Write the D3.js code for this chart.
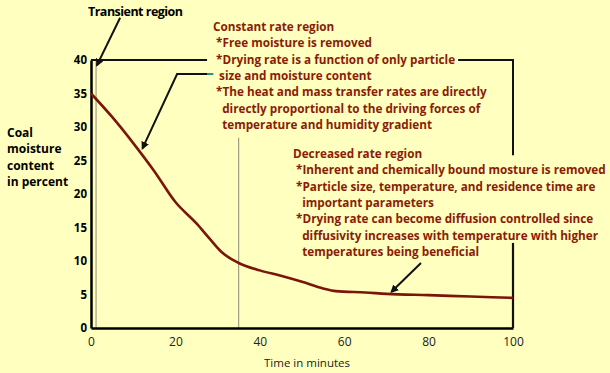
<!DOCTYPE html>
<html>
<head>
<meta charset="utf-8">
<script src="https://cdn.jsdelivr.net/npm/d3@7"></script>
<style>
  body { margin: 0; background: #ffffc0; }
  svg { display: block; font-family: "Open Sans", sans-serif; }
</style>
</head>
<body>
<div class="graph"></div>
<script>
// drying curve
const time     = [0, 5, 10, 15, 20, 25, 28, 31, 35, 40, 45, 50, 55, 58, 65, 70, 80, 90, 100];
const moisture = [35, 31.5, 27.6, 23.4, 18.8, 15.6, 13.4, 11.3, 9.7, 8.6, 7.8, 6.9, 5.9, 5.5, 5.3, 5.1, 4.9, 4.7, 4.5];

const xTicks = [0, 20, 40, 60, 80, 100];
const yTicks = [0, 5, 10, 15, 20, 25, 30, 35, 40];

const yTitle = ["Coal", "moisture", "content", "in percent"];
const xTitle = "Time in minutes";
const transientLabel = "Transient region";

const constantLines = [
  "Constant rate region",
  " *Free moisture is removed",
  " *Drying rate is a function of only particle",
  "  size and moisture content",
  " *The heat and mass transfer rates are directly",
  "   directly proportional to the driving forces of",
  "   temperature and humidity gradient"
];
const decreasedLines = [
  "Decreased rate region",
  " *Inherent and chemically bound mosture is removed",
  " *Particle size, temperature, and residence time are",
  "   important parameters",
  " *Drying rate can become diffusion controlled since",
  "   diffusivity increases with temperature with higher",
  "   temperatures being beneficial"
];

const width = 610, height = 373;
const textRed = "#8a1c06";

const x = d3.scaleLinear().domain([0, 100]).range([91, 513]);
const y = d3.scaleLinear().domain([0, 40]).range([328, 60]);

const svg = d3.select('.graph')
  .append('svg')
  .attr('width', width)
  .attr('height', height);

svg.append('rect')
  .attr('width', width)
  .attr('height', height)
  .attr('fill', '#ffffc0');

svg.append('defs').append('marker')
  .attr('id', 'arrow')
  .attr('viewBox', '0 0 10 10')
  .attr('refX', 8).attr('refY', 5)
  .attr('markerWidth', 4).attr('markerHeight', 4)
  .attr('orient', 'auto')
  .append('path')
  .attr('d', 'M0,0L10,5L0,10z')
  .attr('fill', '#111');

// thin region dividers
svg.append('line')
  .attr('x1', x(1.2)).attr('x2', x(1.2))
  .attr('y1', y(40)).attr('y2', y(0))
  .attr('stroke', '#8c8c7a').attr('stroke-width', 1);

svg.append('line')
  .attr('x1', x(35)).attr('x2', x(35))
  .attr('y1', y(28.4)).attr('y2', y(0))
  .attr('stroke', '#8c8c7a').attr('stroke-width', 1);

// axes
const xAxis = d3.axisBottom(x).tickValues(xTicks).tickSize(0).tickPadding(9);
const yAxis = d3.axisLeft(y).tickValues(yTicks).tickSize(0).tickPadding(4);

const gx = svg.append('g')
  .attr('transform', `translate(0, ${y(0)})`)
  .call(xAxis);
gx.select('.domain').attr('stroke', '#000').attr('stroke-width', 2.5);
gx.selectAll('text')
  .attr('font-size', 12)
  .attr('fill', '#222')
  .attr('font-family', '"Open Sans", sans-serif');

const gy = svg.append('g')
  .attr('transform', `translate(${x(0)}, 0)`)
  .call(yAxis);
gy.select('.domain').attr('stroke', '#000').attr('stroke-width', 2.5);
gy.selectAll('text')
  .attr('font-size', 11.5)
  .attr('font-weight', 700)
  .attr('fill', '#000')
  .attr('font-family', '"Open Sans", sans-serif');

// box edges, broken by the annotation text
const bracket = (pts, w) => svg.append('path')
  .attr('d', d3.line().x(d => x(d[0])).y(d => y(d[1]))(pts))
  .attr('fill', 'none')
  .attr('stroke', '#111')
  .attr('stroke-width', w);

bracket([[0, 40], [27.5, 40]], 2);
bracket([[87, 40], [100, 40], [100, 25.8]], 2);
bracket([[100, 12.7], [100, 0]], 2.2);

// curve
svg.append('path')
  .datum(time.map((t, i) => [t, moisture[i]]))
  .attr('d', d3.line().x(d => x(d[0])).y(d => y(d[1])).curve(d3.curveMonotoneX))
  .attr('fill', 'none')
  .attr('stroke', '#7a1508')
  .attr('stroke-width', 2.6);

// pointers
bracket([[28.2, 37.9], [20.4, 37.9], [12.2, 26.8]], 2).attr('marker-end', 'url(#arrow)');
svg.append('line')
  .attr('x1', x(27.5)).attr('x2', x(29))
  .attr('y1', y(37.9)).attr('y2', y(37.9))
  .attr('stroke', '#2f8c8c').attr('stroke-width', 2);
bracket([[6.9, 46.3], [1.4, 39.2]], 2).attr('marker-end', 'url(#arrow)');
bracket([[78.2, 9.7], [71.2, 5.4]], 2).attr('marker-end', 'url(#arrow)');

// texts
svg.append('text')
  .attr('x', 88).attr('y', 16)
  .attr('font-size', 12.5).attr('font-weight', 700)
  .attr('textLength', 95)
  .text(transientLabel);

svg.append('g').selectAll('text')
  .data(yTitle)
  .join('text')
  .attr('x', 7)
  .attr('y', (d, i) => 137 + i * 16.3)
  .attr('font-size', 12).attr('font-weight', 700)
  .text(d => d);

svg.append('text')
  .attr('x', 307).attr('y', 367)
  .attr('text-anchor', 'middle')
  .attr('font-size', 11.5)
  .attr('fill', '#222')
  .text(xTitle);

function block(lines, left, top, target) {
  const g = svg.append('g');
  const t = g.selectAll('text')
    .data(lines)
    .join('text')
    .attr('x', left)
    .attr('y', (d, i) => top + i * 16.3)
    .attr('font-size', 13)
    .attr('font-weight', 700)
    .attr('fill', textRed)
    .attr('xml:space', 'preserve')
    .style('white-space', 'pre')
    .text(d => d);
  const widest = d3.max(t.nodes(), n => n.getComputedTextLength());
  t.attr('font-size', 13 * target / widest);
}

block(constantLines, 213, 31, 274);
block(decreasedLines, 293, 158, 313);
</script>
</body>
</html>
